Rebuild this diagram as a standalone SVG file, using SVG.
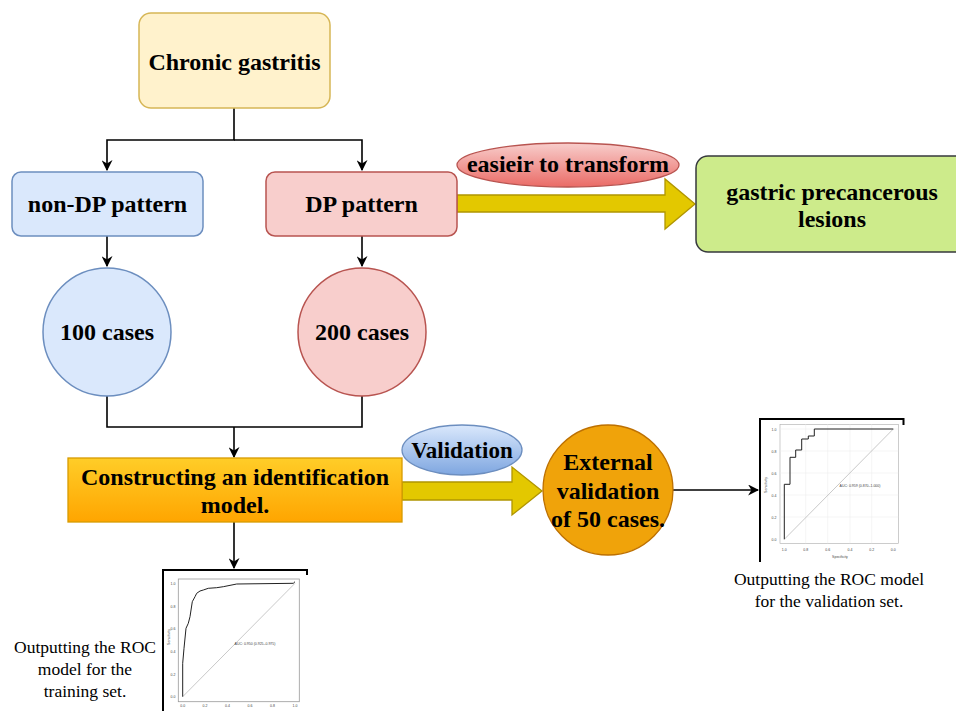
<svg xmlns="http://www.w3.org/2000/svg" width="956" height="711" viewBox="0 0 956 711">
<defs>
<marker id="arr" viewBox="0 0 10 10" refX="9" refY="5" markerWidth="11" markerHeight="11" markerUnits="userSpaceOnUse" orient="auto">
<path d="M0,0 L10,5 L0,10 L3,5 Z" fill="#000"/>
</marker>
<linearGradient id="gOrange" x1="0" y1="0" x2="0" y2="1"><stop offset="0" stop-color="#ffcd28"/><stop offset="1" stop-color="#ffa500"/></linearGradient>
<linearGradient id="gRed" x1="0" y1="0" x2="0" y2="1"><stop offset="0" stop-color="#f8cecc"/><stop offset="1" stop-color="#ea6b66"/></linearGradient>
<linearGradient id="gBlue" x1="0" y1="0" x2="0" y2="1"><stop offset="0" stop-color="#dae8fc"/><stop offset="1" stop-color="#7ea6e0"/></linearGradient>
</defs>
<style>
.t{font-family:"Liberation Serif","Times New Roman",serif;font-weight:bold;font-size:24px;fill:#000;text-anchor:middle}
.s{font-family:"Liberation Serif","Times New Roman",serif;font-size:17.5px;fill:#000;text-anchor:middle}
.c{fill:none;stroke:#000;stroke-width:1.6}
.ya{fill:#e3c800;stroke:#b09500;stroke-width:1.3}
.tiny{font-family:"Liberation Sans",Arial,sans-serif;font-size:3.5px;fill:#444;text-anchor:middle}
.frame{fill:none;stroke:#000;stroke-width:2}
</style>
<rect width="956" height="711" fill="#fff"/>

<g id="connectors">
<path class="c" d="M234,108 V140 H107 V170" marker-end="url(#arr)"/>
<path class="c" d="M234,140 H362 V170" marker-end="url(#arr)"/>
<path class="c" d="M107,236 V266" marker-end="url(#arr)"/>
<path class="c" d="M362,236 V266" marker-end="url(#arr)"/>
<path class="c" d="M107,396 V427 H362 V396"/>
<path class="c" d="M234,427 V457" marker-end="url(#arr)"/>
<path class="c" d="M234,522 V568" marker-end="url(#arr)"/>
<path class="c" d="M673,490 H758" marker-end="url(#arr)"/>
<path id="arrow-transform" class="ya" d="M457,195 H665 V179 L695,204 L665,229 V212 H457 Z"/>
<path id="arrow-validation" class="ya" d="M402,482 H512 V467 L542,491 L512,515 V500 H402 Z"/>
</g>

<g id="chronic">
<rect x="139" y="13" width="191" height="95" rx="12" fill="#fff2cc" stroke="#d6b656" stroke-width="1.5"/>
<text class="t" x="234.5" y="70">Chronic gastritis</text>
</g>
<g id="nondp">
<rect x="12" y="172" width="191" height="64" rx="9" fill="#dae8fc" stroke="#6c8ebf" stroke-width="1.5"/>
<text class="t" x="107.5" y="212">non-DP pattern</text>
</g>
<g id="dp">
<rect x="266" y="172" width="191" height="64" rx="9" fill="#f8cecc" stroke="#b85450" stroke-width="1.5"/>
<text class="t" x="361.5" y="212">DP pattern</text>
</g>
<g id="gpl">
<rect x="696" y="156" width="275" height="96" rx="12" fill="#cdeb8b" stroke="#36393d" stroke-width="1.5"/>
<text class="t" x="832" y="200">gastric precancerous</text>
<text class="t" x="832" y="227">lesions</text>
</g>
<g id="easier">
<ellipse cx="568" cy="165" rx="111" ry="22" fill="url(#gRed)" stroke="#b85450" stroke-width="1.3"/>
<text class="t" x="568" y="172">easieir to transform</text>
</g>
<g id="c100">
<circle cx="107" cy="332" r="64" fill="#dae8fc" stroke="#6c8ebf" stroke-width="1.5"/>
<text class="t" x="107" y="340">100 cases</text>
</g>
<g id="c200">
<circle cx="362" cy="332" r="64" fill="#f8cecc" stroke="#b85450" stroke-width="1.5"/>
<text class="t" x="362" y="340">200 cases</text>
</g>
<g id="construct">
<rect x="68" y="458" width="334" height="64" fill="url(#gOrange)" stroke="#d79b00" stroke-width="1.3"/>
<text class="t" x="235" y="485">Constructing an identification</text>
<text class="t" x="235" y="513">model.</text>
</g>
<g id="validation">
<ellipse cx="462" cy="450" rx="60" ry="25" fill="url(#gBlue)" stroke="#6c8ebf" stroke-width="1.3"/>
<text class="t" x="462" y="458" style="font-size:23px">Validation</text>
</g>
<g id="external">
<circle cx="608" cy="490" r="65" fill="#f0a30a" stroke="#bd7000" stroke-width="1.3"/>
<text class="t" x="608" y="470">External</text>
<text class="t" x="608" y="499">validation</text>
<text class="t" x="608" y="527">of 50 cases.</text>
</g>

<g id="roc-training">
<path class="frame" d="M163,711 V570 H307 V575"/>
<rect x="178.3" y="579" width="121" height="122.7" fill="#fff" stroke="#999" stroke-width="0.8"/>
<line x1="182.7" y1="696.7" x2="295" y2="583.3" stroke="#bbb" stroke-width="0.8"/>
<polyline fill="none" stroke="#222" stroke-width="1" points="182.7,696.7 182.7,663.3 184,648.3 186,628.3 188.3,623.3 190,616.7 192.3,601.7 195,596.7 196.7,593.3 200,591 203.3,590 208.3,588.3 216.7,587.7 223.3,586.7 236.7,584 293.3,583.3 295,581.7"/>
<text class="tiny" x="255" y="645">AUC: 0.950 (0.925–0.975)</text>
<text class="tiny" transform="translate(170,637) rotate(-90)">Sensitivity</text>
<g class="tiny">
<text x="173" y="698">0.0</text><text x="173" y="675.5">0.2</text><text x="173" y="653">0.4</text><text x="173" y="630">0.6</text><text x="173" y="607.5">0.8</text><text x="173" y="585">1.0</text>
<text x="182.7" y="707">0.0</text><text x="205" y="707">0.2</text><text x="227.5" y="707">0.4</text><text x="250" y="707">0.6</text><text x="272.5" y="707">0.8</text><text x="295" y="707">1.0</text>
</g>
</g>

<g id="roc-validation">
<path class="frame" d="M760,562 V419 H903.5 V425"/>
<rect x="780" y="424.3" width="118.3" height="119" fill="#fff" stroke="#aaa" stroke-width="0.6"/>
<g stroke="#eee" stroke-width="0.6">
<line x1="780" y1="517" x2="898.3" y2="517"/><line x1="780" y1="495" x2="898.3" y2="495"/><line x1="780" y1="473" x2="898.3" y2="473"/><line x1="780" y1="451" x2="898.3" y2="451"/><line x1="780" y1="429" x2="898.3" y2="429"/>
<line x1="805.7" y1="424.3" x2="805.7" y2="543.3"/><line x1="827.7" y1="424.3" x2="827.7" y2="543.3"/><line x1="850" y1="424.3" x2="850" y2="543.3"/><line x1="871.7" y1="424.3" x2="871.7" y2="543.3"/>
</g>
<line x1="784.3" y1="539.3" x2="893.3" y2="429" stroke="#bbb" stroke-width="0.8"/>
<polyline fill="none" stroke="#222" stroke-width="1" points="784.3,539.3 784.3,484.3 790,484.3 790,457.3 795.7,457.3 795.7,450 801.7,450 801.7,439 808.3,439 808.3,436 814.3,436 814.3,429 893.3,429"/>
<text class="tiny" x="860" y="487">AUC: 0.959 (0.870–1.000)</text>
<text class="tiny" transform="translate(767,485) rotate(-90)">Sensitivity</text>
<text class="tiny" x="840" y="558">Specificity</text>
<g class="tiny">
<text x="774" y="540.5">0.0</text><text x="774" y="518.5">0.2</text><text x="774" y="496.5">0.4</text><text x="774" y="474.5">0.6</text><text x="774" y="452.5">0.8</text><text x="774" y="430.5">1.0</text>
<text x="784.3" y="551">1.0</text><text x="805.7" y="551">0.8</text><text x="827.7" y="551">0.6</text><text x="850" y="551">0.4</text><text x="871.7" y="551">0.2</text><text x="893.3" y="551">0.0</text>
</g>
</g>

<g id="label-training">
<text class="s" x="85" y="653">Outputting the ROC</text>
<text class="s" x="85" y="675">model for the</text>
<text class="s" x="85" y="697">training set.</text>
</g>
<g id="label-validation">
<text class="s" x="829" y="585">Outputting the ROC model</text>
<text class="s" x="829" y="607">for the validation set.</text>
</g>
</svg>
